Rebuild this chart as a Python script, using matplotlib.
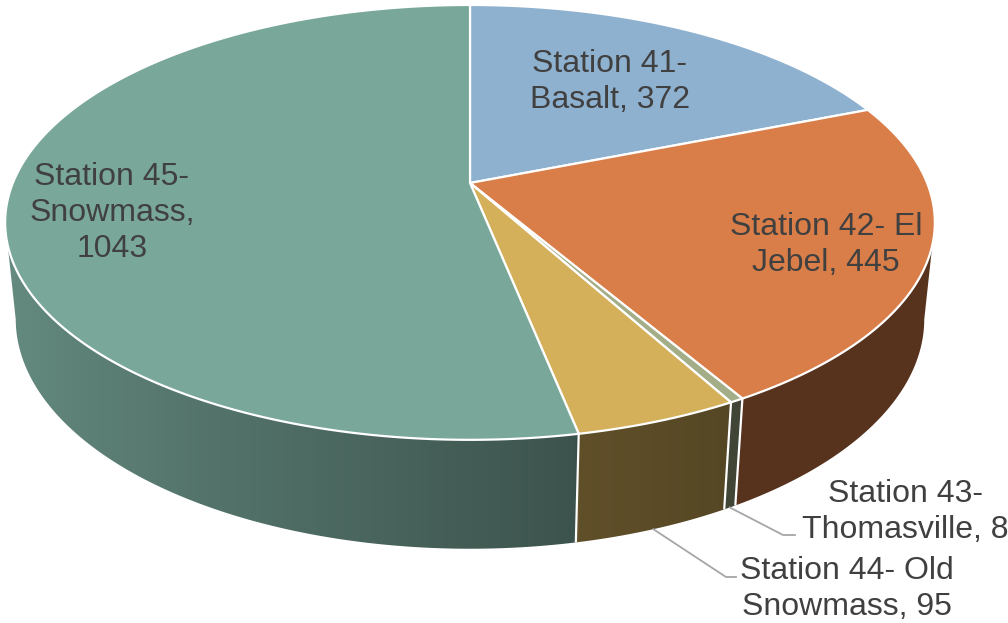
import numpy as np
import matplotlib
matplotlib.use("Agg")
import matplotlib.pyplot as plt
from matplotlib.patches import Polygon
from matplotlib.colors import to_rgb

# ---- data ----
labels = ["Station 41-\nBasalt, 372", "Station 42- El\nJebel, 445", "Station 43-\nThomasville, 8",
          "Station 44- Old\nSnowmass, 95", "Station 45-\nSnowmass,\n1043"]
values = [372, 445, 8, 95, 1043]
colors = ["#8FB1D0", "#DA7E49", "#A3AD87", "#D5B05B", "#79A79A"]

# ---- 3D perspective pie geometry ----
CX, CY = 470, 183          # projected centre of top face (pixels)
SIN_P = 0.46
COS_P = np.sqrt(1 - SIN_P**2)
D = 4.9
F = 2240
H = 0.24                   # thickness


def proj(theta_deg, z=0.0, r=1.0):
    t = np.radians(theta_deg)
    x = r * np.sin(t)
    y = r * np.cos(t)
    xc = x
    yc = z * COS_P + y * SIN_P
    dc = D + y * COS_P - z * SIN_P
    return CX + F * xc / dc, CY - F * yc / dc


def shade(theta_deg):
    s = -np.sin(np.radians(theta_deg))
    return np.interp(s, [-1.0, -0.5, -0.2, -0.19, 1.0],
                     [0.40, 0.40, 0.45, 0.50, 0.84])


fig = plt.figure(figsize=(10.08, 6.23), dpi=100)
ax = fig.add_axes([0, 0, 1, 1])

total = float(sum(values))
bounds = np.concatenate([[0], np.cumsum(values) / total * 360.0])

# silhouette angles (where the side's outline is tangent)
scan = np.linspace(0, 360, 7201)
xscan = np.array([proj(t, -H / 2)[0] for t in scan])
th_right = scan[:3600][np.argmax(xscan[:3600])]
th_left = scan[3600:][np.argmin(xscan[3600:])]

# mapping screen x -> angle on the front rim
th_grid = np.linspace(th_right, th_left, 800)
x_grid = np.array([proj(t, -H / 2)[0] for t in th_grid])
order = np.argsort(x_grid)
x_sorted, th_sorted = x_grid[order], th_grid[order]

# side faces with horizontal gradient
for i, v in enumerate(values):
    a0, a1 = max(bounds[i], th_right), min(bounds[i + 1], th_left)
    if a1 <= a0:
        continue
    ts = np.linspace(a0, a1, max(3, int((a1 - a0) * 3)))
    top = [proj(t, 0) for t in ts]
    bot = [proj(t, -H) for t in ts[::-1]]
    poly = Polygon(top + bot, closed=True, facecolor="none", edgecolor="none")
    ax.add_patch(poly)
    pts = np.array(top + bot)
    xmin, xmax = pts[:, 0].min() - 2, pts[:, 0].max() + 2
    ymin, ymax = pts[:, 1].min() - 2, pts[:, 1].max() + 2
    xs = np.linspace(xmin, xmax, max(4, int(xmax - xmin)))
    th = np.interp(xs, x_sorted, th_sorted)
    th = np.clip(th, a0, a1)
    base = np.array(to_rgb(colors[i]))
    row = np.clip(base[None, :] * shade(th)[:, None], 0, 1)
    img = np.repeat(row[None, :, :], 2, axis=0)
    im = ax.imshow(img, extent=(xmin, xmax, ymax, ymin), origin="upper",
                   aspect="auto", interpolation="bilinear")
    im.set_clip_path(poly)

# white boundary lines on visible side
for b in bounds:
    bb = b % 360
    if 90 < bb < 270:
        (x0, y0), (x1, y1) = proj(bb, 0), proj(bb, -H)
        ax.plot([x0, x1], [y0, y1], color="white", lw=1.6, solid_capstyle="butt")

# top faces
for i, v in enumerate(values):
    a0, a1 = bounds[i], bounds[i + 1]
    ts = np.linspace(a0, a1, max(3, int((a1 - a0) * 2)))
    pts = [proj(0, 0, 0)] + [proj(t, 0) for t in ts]
    ax.add_patch(Polygon(pts, closed=True, facecolor=colors[i], edgecolor="white",
                         linewidth=1.6, joinstyle="round"))

# labels
tcol = "#404040"
font = dict(family=["Liberation Sans", "DejaVu Sans"], fontsize=23, color=tcol,
            ha="center", va="center", linespacing=1.27)
label_pos = [(610, 82), (826, 245), (905, 512), (847, 589), (112, 213)]
for lab, (x, y) in zip(labels, label_pos):
    ax.text(x, y, lab, **font)

# leader lines for small slices
leader_elbows = {2: [(783, 535), (795, 535)], 3: [(726, 577), (736, 577)]}
for i, elbow in leader_elbows.items():
    tm = 0.5 * (bounds[i] + bounds[i + 1])
    sx, sy = proj(tm, -H)
    xs = [sx] + [e[0] for e in elbow]
    ys = [sy] + [e[1] for e in elbow]
    ax.plot(xs, ys, color="#A6A6A6", lw=1.3)

ax.set_xlim(0, 1008)
ax.set_ylim(623, 0)
ax.axis("off")

fig.savefig("out.png", dpi=100)
